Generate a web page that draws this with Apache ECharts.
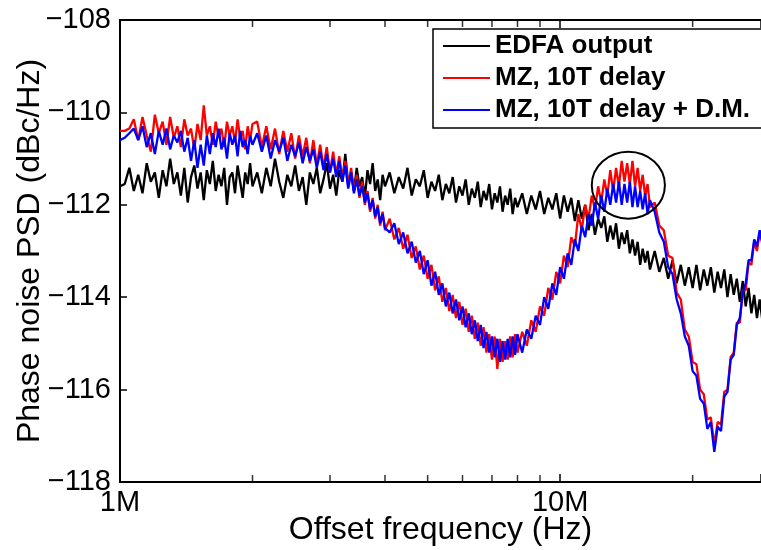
<!DOCTYPE html>
<html>
<head>
<meta charset="utf-8">
<script src="https://cdn.jsdelivr.net/npm/echarts@6/dist/echarts.min.js"></script>
<style>html,body{margin:0;padding:0;background:#fff;}#c{width:761px;height:550px;}</style>
</head>
<body>
<div id="c"></div>
<script>
// Offset frequency in MHz
const freqMHz = [
1.000,1.025,1.050,1.075,1.100,1.125,1.150,1.175,1.200,1.225,1.250,1.275,1.300,1.325,1.350,1.375,1.400,1.425,1.450,1.475,1.500,1.525,1.550,1.575,1.600,1.625,1.650,1.675,1.700,1.725,1.750,1.775,1.800,1.825,1.850,1.875,1.900,1.925,1.950,1.975,2.000,
2.05,2.10,2.15,2.20,2.25,2.30,2.35,2.40,2.45,2.50,2.55,2.60,2.65,2.70,2.75,2.80,2.85,2.90,2.95,3.00,3.05,3.10,3.15,3.20,3.25,3.30,3.35,3.40,3.45,3.50,3.55,3.60,3.65,3.70,3.75,3.80,3.85,3.90,3.95,4.00,
4.1,4.2,4.3,4.4,4.5,4.6,4.7,4.8,4.9,5.0,5.1,5.2,5.3,5.4,5.5,5.6,5.7,5.8,5.9,6.0,6.1,6.2,6.3,6.4,6.5,6.6,6.7,6.8,6.9,7.0,7.1,7.2,7.3,7.4,7.5,7.6,7.7,7.8,7.9,8.0,
8.2,8.4,8.6,8.8,9.0,9.2,9.4,9.6,9.8,10.0,10.2,10.4,10.6,10.8,11.0,11.2,11.4,11.6,11.8,12.0,12.2,12.4,12.6,12.8,13.0,13.2,13.4,13.6,13.8,14.0,14.2,14.4,14.6,14.8,15.0,15.2,15.4,15.6,15.8,16.0,
16.4,16.8,17.2,17.6,18.0,18.4,18.8,19.2,19.6,20.0,20.4,20.8,21.2,21.6,22.0,22.4,22.8,23.2,23.6,24.0,24.4,24.8,25.2,25.6,26.0,26.4,26.8,27.2,27.6,28.0,28.4,28.8,29.2,29.6,30.0
];
// EDFA output (dBc/Hz)
const edfaOutput = [
-111.6,-111.55,-111.2,-111.7,-111.35,-111.75,-111.1,-111.5,-111.3,-111.85,-111.25,-111.6,-111.0,-111.55,-111.3,-111.8,-111.2,-111.95,-111.4,-111.15,-111.65,-111.3,-111.9,-111.25,-111.55,-111.05,-111.7,-111.35,-111.6,-111.2,-112.0,-111.4,-111.3,-111.75,-111.15,-111.5,-111.85,-111.3,-111.55,-111.1,-111.6,
-111.3,-111.75,-111.2,-111.6,-111.0,-111.5,-111.85,-111.35,-111.6,-111.15,-111.7,-111.4,-112.0,-111.3,-111.55,-111.2,-111.75,-111.45,-111.1,-111.65,-111.35,-111.8,-111.25,-111.5,-110.9,-111.55,-111.3,-111.7,-111.2,-111.6,-111.4,-111.85,-111.25,-111.55,-111.1,-111.7,-111.45,-111.9,-111.35,-111.6,
-111.3,-111.75,-111.4,-111.65,-111.2,-111.8,-111.45,-111.6,-111.25,-111.85,-111.5,-111.7,-111.35,-111.9,-111.55,-111.75,-111.4,-111.95,-111.6,-111.8,-111.45,-112.0,-111.65,-111.85,-111.5,-112.05,-111.7,-111.9,-111.55,-112.1,-111.75,-111.95,-111.6,-112.15,-111.8,-112.0,-111.65,-112.2,-111.85,-112.05,
-111.75,-112.2,-111.8,-112.1,-111.7,-112.2,-111.85,-112.1,-111.75,-112.3,-111.8,-112.15,-111.85,-112.35,-111.9,-112.3,-112.0,-112.55,-112.2,-112.65,-112.3,-112.5,-112.25,-112.8,-112.45,-112.75,-112.4,-112.95,-112.6,-112.85,-112.55,-113.05,-112.75,-113.1,-112.8,-113.3,-112.95,-113.25,-113.0,-113.4,
-113.0,-113.45,-113.15,-113.6,-113.2,-113.7,-113.3,-113.75,-113.35,-113.8,-113.3,-113.85,-113.4,-113.75,-113.35,-113.9,-113.45,-113.8,-113.4,-114.0,-113.5,-113.95,-113.6,-114.1,-113.65,-114.2,-113.8,-114.35,-113.95,-114.45,-114.05,-114.5,-114.1,-114.55,-114.2
];
// MZ, 10T delay (dBc/Hz)
const mz10T = [
-110.4,-110.4,-110.35,-110.15,-110.6,-110.1,-110.5,-110.85,-110.05,-110.45,-110.2,-110.7,-110.1,-110.55,-110.3,-110.75,-110.15,-110.5,-110.35,-110.8,-110.25,-110.6,-109.85,-110.5,-110.3,-110.7,-110.2,-110.55,-110.35,-110.75,-110.2,-110.5,-110.3,-110.65,-110.15,-110.55,-110.4,-110.8,-110.3,-110.6,-110.25,
-110.2,-110.75,-110.3,-110.8,-110.35,-110.9,-110.4,-110.85,-110.45,-111.0,-110.5,-110.95,-110.55,-111.1,-110.6,-111.15,-110.7,-111.2,-110.75,-111.3,-110.85,-111.35,-110.95,-111.45,-111.05,-111.6,-111.2,-111.7,-111.35,-111.85,-111.5,-112.0,-111.7,-112.15,-111.85,-112.3,-112.0,-112.45,-112.15,-112.55,
-112.3,-112.75,-112.5,-112.95,-112.65,-113.15,-112.9,-113.4,-113.1,-113.6,-113.3,-113.85,-113.55,-114.1,-113.8,-114.3,-113.95,-114.45,-114.1,-114.6,-114.25,-114.75,-114.4,-114.9,-114.55,-115.05,-114.65,-115.2,-114.8,-115.35,-114.85,-115.55,-114.9,-115.4,-114.95,-115.35,-114.85,-115.3,-114.8,-115.2,
-114.75,-115.05,-114.5,-114.75,-114.2,-114.4,-113.8,-114.05,-113.45,-113.7,-113.1,-113.35,-112.7,-112.9,-112.2,-112.55,-112.0,-112.3,-111.8,-112.1,-111.6,-111.95,-111.45,-111.8,-111.25,-111.7,-111.2,-111.6,-111.05,-111.5,-111.1,-111.55,-111.05,-111.6,-111.2,-111.7,-111.35,-111.8,-111.55,-112.05,
-111.95,-112.45,-112.55,-113.1,-113.15,-113.9,-114.05,-114.7,-114.85,-115.4,-115.45,-116.0,-116.1,-116.65,-116.6,-117.2,-116.7,-116.75,-116.05,-116.0,-115.3,-115.2,-114.55,-114.55,-113.85,-113.85,-113.25,-113.3,-112.8,-113.0,-112.6,-112.85,-112.5,-112.75,-112.5
];
// MZ, 10T delay + D.M. (dBc/Hz)
const mz10TDM = [
-110.6,-110.55,-110.45,-110.35,-110.6,-110.3,-110.75,-110.45,-110.9,-110.4,-110.7,-110.35,-110.8,-110.5,-110.65,-110.4,-110.85,-110.55,-111.05,-110.6,-111.2,-110.7,-111.15,-110.5,-110.9,-110.45,-110.75,-110.35,-110.8,-110.55,-111.0,-110.45,-110.7,-110.5,-110.95,-110.4,-110.75,-110.6,-110.9,-110.5,-110.7,
-110.45,-110.85,-110.5,-111.0,-110.6,-110.85,-110.55,-111.05,-110.7,-110.95,-110.65,-111.1,-110.75,-111.05,-110.8,-111.2,-110.85,-111.25,-110.9,-111.3,-111.0,-111.4,-111.05,-111.5,-111.15,-111.65,-111.3,-111.75,-111.45,-111.8,-111.6,-111.95,-111.75,-112.1,-111.9,-112.25,-112.05,-112.4,-112.2,-112.5,
-112.6,-112.4,-112.85,-112.6,-113.05,-112.8,-113.25,-113.0,-113.5,-113.2,-113.75,-113.45,-113.95,-113.7,-114.2,-113.9,-114.35,-114.05,-114.5,-114.2,-114.65,-114.35,-114.8,-114.5,-114.95,-114.6,-115.1,-114.75,-115.2,-114.85,-115.3,-114.9,-115.4,-114.95,-115.35,-114.9,-115.3,-114.85,-115.25,-114.8,
-115.2,-114.7,-114.9,-114.4,-114.6,-114.0,-114.25,-113.7,-113.95,-113.35,-113.6,-113.05,-113.3,-112.75,-113.0,-112.45,-112.7,-112.2,-112.45,-111.95,-112.3,-111.8,-112.15,-111.65,-112.0,-111.55,-111.95,-111.5,-112.0,-111.55,-111.95,-111.5,-112.05,-111.6,-112.05,-111.7,-112.1,-111.75,-112.2,-111.9,
-112.15,-112.6,-112.8,-113.35,-113.5,-114.05,-114.35,-114.85,-115.05,-115.6,-115.7,-116.2,-116.3,-116.85,-116.7,-117.35,-116.8,-116.9,-116.15,-116.05,-115.35,-115.25,-114.6,-114.45,-113.9,-113.7,-113.2,-113.2,-112.75,-112.9,-112.55,-112.8,-112.5,-112.7,-112.45
];
const seriesNames = ['EDFA output', 'MZ, 10T delay', 'MZ, 10T delay + D.M.'];
const seriesColors = ['#000000', '#ff0000', '#0000ff'];
// axes
const xRange = [1, 28.6];         // MHz, log scale (plot is cut at the right edge)
const yRange = [-118, -108];
const yStep = 2;
const minorTickFreqs = [2, 3, 4, 5, 6, 7, 8, 9, 20];
// annotation ellipse (data bounds)
const circleFreqs = [11.8, 17.3];
const circleLevels = [-110.85, -112.3];

const FONT = '"Liberation Sans", Arial, Helvetica, sans-serif';
const chart = echarts.init(document.getElementById('c'), null, {renderer: 'canvas'});

function pairs(ys) { return freqMHz.map((f, i) => [f, ys[i]]); }
const allData = [edfaOutput, mz10T, mz10TDM];

const lineSeries = allData.map((ys, i) => ({
  name: seriesNames[i], type: 'line', data: pairs(ys),
  showSymbol: false, symbol: 'none', xAxisIndex: 0, yAxisIndex: 0, clip: true,
  lineStyle: {color: seriesColors[i], width: 2.3}, itemStyle: {color: seriesColors[i]},
  emphasis: {disabled: true}, silent: true, z: 2 + i
}));

const tickSeries = [
  {type: 'scatter', data: minorTickFreqs.map(f => [f, yRange[0]]), symbol: 'rect', symbolSize: [1.5, 7], symbolOffset: [0, -3.5],
   itemStyle: {color: '#000'}, silent: true, z: 10, xAxisIndex: 0, yAxisIndex: 0, clip: false},
  {type: 'scatter', data: minorTickFreqs.map(f => [f, yRange[1]]), symbol: 'rect', symbolSize: [1.5, 7], symbolOffset: [0, 3.5],
   itemStyle: {color: '#000'}, silent: true, z: 10, xAxisIndex: 0, yAxisIndex: 0, clip: false}
];

function isDecade(v) { const l = Math.log10(v); return Math.abs(l - Math.round(l)) < 1e-6; }

chart.setOption({
  animation: false,
  backgroundColor: '#fff',
  grid: {left: 120, top: 20, bottom: 68, right: 0, show: false, containLabel: false, outerBoundsMode: 'none'},
  legend: {
    data: seriesNames, orient: 'vertical', left: 433, top: 29,
    padding: [1, 80, 2, 10], itemGap: 0, itemWidth: 47, itemHeight: 2, icon: 'rect',
    backgroundColor: '#fff', borderColor: '#000', borderWidth: 1.5, selectedMode: false,
    textStyle: {fontFamily: FONT, fontWeight: 'bold', fontSize: 26, color: '#000', lineHeight: 32}
  },
  xAxis: [{
    type: 'log', logBase: 10, min: xRange[0], max: xRange[1], position: 'bottom',
    name: 'Offset frequency (Hz)', nameLocation: 'middle', nameGap: 32, nameMoveOverlap: false,
    nameTextStyle: {fontFamily: FONT, fontSize: 32, color: '#000'},
    axisLine: {show: true, lineStyle: {color: '#000', width: 2}},
    axisTick: {show: true, inside: true, length: 8, lineStyle: {color: '#000', width: 1.5}},
    axisLabel: {fontFamily: FONT, fontSize: 29, color: '#000', margin: 6, formatter: v => isDecade(v) ? (v + 'M') : ''},
    splitLine: {show: false}, minorTick: {show: false}
  }, {
    type: 'log', logBase: 10, min: xRange[0], max: xRange[1], position: 'top',
    axisLine: {show: true, lineStyle: {color: '#000', width: 2}},
    axisTick: {show: true, inside: true, length: 8, lineStyle: {color: '#000', width: 1.5}},
    axisLabel: {show: false}, splitLine: {show: false}
  }],
  yAxis: [{
    type: 'value', min: yRange[0], max: yRange[1], interval: yStep,
    name: 'Phase noise PSD (dBc/Hz)', nameLocation: 'middle', nameGap: 74, nameMoveOverlap: false,
    nameTextStyle: {fontFamily: FONT, fontSize: 32, color: '#000'},
    axisLine: {show: true, lineStyle: {color: '#000', width: 2}},
    axisTick: {show: true, inside: true, length: 7, lineStyle: {color: '#000', width: 1.5}},
    axisLabel: {fontFamily: FONT, fontSize: 29, color: '#000', margin: 9, formatter: v => String(v).replace('-', '\u2212')},
    splitLine: {show: false}
  }],
  series: lineSeries.concat(tickSeries)
});

const p1 = chart.convertToPixel({gridIndex: 0}, [circleFreqs[0], circleLevels[0]]);
const p2 = chart.convertToPixel({gridIndex: 0}, [circleFreqs[1], circleLevels[1]]);
chart.setOption({
  graphic: [{
    type: 'ellipse', z: 100, silent: true,
    shape: {cx: (p1[0] + p2[0]) / 2, cy: (p1[1] + p2[1]) / 2, rx: Math.abs(p2[0] - p1[0]) / 2, ry: Math.abs(p2[1] - p1[1]) / 2},
    style: {fill: 'none', stroke: '#000', lineWidth: 2}
  }]
});
</script>
</body>
</html>
